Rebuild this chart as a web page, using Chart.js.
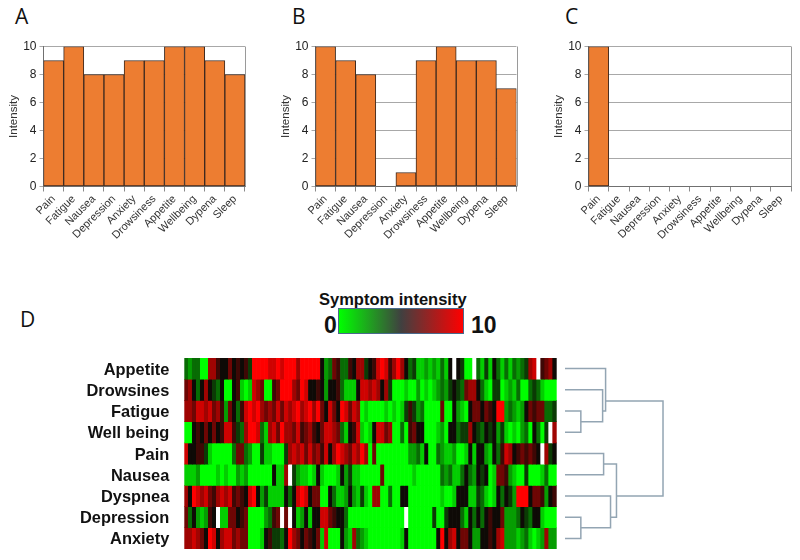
<!DOCTYPE html>
<html><head><meta charset="utf-8">
<style>
html,body{margin:0;padding:0;background:#fff;width:800px;height:560px;overflow:hidden}
canvas{position:absolute;display:block}
.t{position:absolute;white-space:nowrap;font-family:"Liberation Sans",Arial,sans-serif;color:#111}
.p{font-family:"Open Sans",sans-serif;font-size:21px;line-height:24px;color:#111}
.b{font-weight:bold}
#bar{position:absolute;left:338px;top:308px;width:124px;height:24px;border:1px solid #4a6a8c;background:linear-gradient(90deg,#00ff00 0%,#404040 50%,#ff0000 100%)}
</style>
<script src="https://cdn.jsdelivr.net/npm/chart.js@4"></script>
</head><body>
<div class="t p" style="left:15px;top:4px">A</div>
<div class="t p" style="left:292px;top:4px">B</div>
<div class="t p" style="left:565px;top:4px">C</div>
<div class="t p" style="left:20px;top:307px">D</div>
<div class="t b" style="left:319px;top:290px;font-size:16.5px;line-height:19px">Symptom intensity</div>
<div class="t b" style="left:324px;top:312px;font-size:23px;line-height:26px">0</div>
<div class="t b" style="left:471px;top:312px;font-size:23px;line-height:26px">10</div>
<div id="bar"></div>
<canvas id="cA" width="246" height="240" style="left:7px;top:0"></canvas>
<canvas id="cB" width="246" height="240" style="left:279px;top:0"></canvas>
<canvas id="cC" width="246" height="240" style="left:552px;top:0"></canvas>
<canvas id="cH" width="560" height="206" style="left:0;top:350px"></canvas>
<canvas id="cD" width="120" height="206" style="left:555px;top:350px"></canvas>
<script>
const symptoms = ['Pain','Fatigue','Nausea','Depression','Anxiety','Drowsiness','Appetite','Wellbeing','Dypena','Sleep'];
const valuesA = [9,10,8,8,9,9,10,10,9,8];
const valuesB = [10,9,8,0,1,9,10,9,9,7];
const valuesC = [10,0,0,0,0,0,0,0,0,0];
const yTicks = [0,2,4,6,8,10];

const heatRows = ['Appetite','Drowsines','Fatigue','Well being','Pain','Nausea','Dyspnea','Depression','Anxiety'];
const appetite = [3,2,3,3,0,0,8,8,6,5, 5,7,5,6,5,6,4,10,10,10, 10,9,9,10,9,10,10,10,8,10, 10,10,10,10,5,2,3,7,6,3, 3,6,5,8,8,4,5,6,9,10, 9,6,8,10,8,5,3,4,1,1, 2,1,2,1,3,1,5,null,5,4, 0,0,null,3,1,4,1,5,3,1, 3,1,3,2,3,4,8,9,null,6,7,8,5];
const drowsiness = [7,8,5,3,5,8,5,4,3,5, 0,0,5,6,1,0,1,9,8,7, 0,0,6,7,10,10,10,8,7,10, 9,5,5,6,5,2,5,5,6,3, 1,1,1,5,9,9,8,9,8,5, 8,4,0,0,0,1,0,0,2,0, 1,0,1,2,3,2,4,5,4,3, 7,8,8,5,3,1,0,4,4,0, 1,2,1,3,0,0,3,4,3,1,0,0,0];
const fatigue = [8,8,7,9,9,8,9,7,8,6, 2,7,5,3,6,9,10,9,10,8, 7,8,7,9,7,9,8,9,10,8, 9,10,8,10,7,5,9,7,5,10, 9,7,9,8,0,1,0,0,0,0, 1,0,1,0,1,4,6,4,2,3, 0,0,0,0,7,0,0,5,2,1, 0,5,7,7,5,7,6,5,10,10, 2,3,2,1,2,5,7,6,7,7,3,3,4];
const wellBeing = [0,0,5,6,5,7,5,7,5,6, 9,9,6,4,3,8,10,10,9,3, 1,8,9,7,10,8,8,7,9,6, 7,8,6,5,7,9,9,8,7,3, 1,5,6,9,1,0,1,5,9,9, 7,8,0,0,3,0,6,7,5,5, 0,0,0,1,2,0,5,5,3,4, 4,8,5,4,3,5,4,5,2,4, 1,0,1,0,2,3,0,5,3,0,4,null,8];
const pain = [9,5,5,6,6,4,1,0,0,0, 0,0,3,7,7,3,2,0,0,4, 1,1,0,0,0,4,8,9,8,9, 7,9,7,8,6,9,5,8,10,9, 8,7,9,8,10,8,0,7,0,0, 0,0,0,0,0,0,2,2,3,1, 5,0,0,3,2,1,1,2,0,0, 1,5,1,5,5,2,1,5,3,6, 9,8,5,6,7,6,7,6,5,null,8,4,5];
const nausea = [1,1,1,2,0,0,0,0,1,0, 1,0,0,2,1,2,0,0,0,0, 0,0,5,1,1,8,null,4,2,1, 1,0,1,5,1,0,0,0,1,5, 2,4,1,1,0,0,0,0,0,7, 0,0,0,0,0,0,0,1,0,0, 0,0,0,0,3,2,3,1,1,3, 5,3,2,5,4,5,0,1,7,7, 6,2,1,0,0,4,0,0,0,1,3,0,0];
const dyspnea = [8,5,10,9,8,9,7,6,8,9, 8,9,6,7,6,5,9,10,5,2, 4,1,1,1,1,5,3,5,9,10, 9,5,7,7,0,0,5,3,1,1, 2,5,2,1,4,1,0,8,8,0, 0,3,0,0,5,5,0,0,0,0, 0,0,0,0,1,0,0,1,5,5, 5,1,1,4,3,1,0,1,5,3, 5,4,2,10,10,10,5,7,7,6,2,5,6];
const depression = [7,3,5,2,1,2,6,5,null,1, 1,7,7,5,6,7,0,0,0,0, 2,3,6,7,null,7,null,5,1,2, 5,1,5,5,9,9,7,6,5,5, 3,0,0,0,0,0,0,0,0,0, 0,0,0,0,0,null,0,0,0,0, 0,0,4,0,0,4,5,5,5,3, 1,5,3,5,3,5,6,5,5,7, 2,2,2,3,5,4,3,5,5,1,0,0,0];
const anxiety = [8,8,9,8,7,5,10,9,5,8, 9,9,7,8,7,7,0,0,0,1, 5,6,4,4,3,5,10,8,7,5, 7,6,5,7,1,9,0,0,0,5, 2,1,8,3,2,1,0,0,0,0, 0,0,0,0,1,5,0,0,0,0, 0,0,0,5,10,5,8,9,5,7, 7,5,2,2,5,5,6,5,8,9, 2,2,2,1,2,3,1,0,1,2,8,2,2];
const heatValues = [appetite,drowsiness,fatigue,wellBeing,pain,nausea,dyspnea,depression,anxiety];

// dendrogram merges: [rowA, distA, rowB, distB, mergeDist]
const merge1 = [2.5,0,3.5,0,16];
const merge2 = [1.5,0,3,16,38];
const merge3 = [0.5,0,2.5,38,41];
const merge4 = [4.5,0,5.5,0,39];
const merge5 = [7.5,0,8.5,0,16];
const merge6 = [6.5,0,8,16,46];
const merge7 = [5,39,7.5,46,52];
const merge8 = [2.03,41,6.5,52,99];
const merges = [merge1,merge2,merge3,merge4,merge5,merge6,merge7,merge8];

function heatColor(v){
  if(v===null) return '#ffffff';
  const mid=[14,10,6],lo=[0,255,0],hi=[255,0,0];
  const a=v<=5?lo:mid,b=v<=5?mid:hi,t=v<=5?v/5:(v-5)/5;
  return 'rgb('+a.map((c,i)=>Math.round(c+(b[i]-c)*t)).join(',')+')';
}
const rightEdge={id:'rightEdge',afterDatasetsDraw(c){
  const a=c.chartArea,x=c.ctx;x.save();x.strokeStyle='#9a9a9a';x.lineWidth=1;
  x.beginPath();x.moveTo(Math.round(a.right)+.5,a.top);x.lineTo(Math.round(a.right)+.5,a.bottom);x.stroke();x.restore();
}};
const font='"Liberation Sans",Arial,sans-serif';
function barChart(id,values,rightPad){
  new Chart(document.getElementById(id),{
    type:'bar',
    data:{labels:symptoms,datasets:[{data:values,backgroundColor:'#ed7d31',borderColor:'#3d2a20',borderWidth:1,barPercentage:1,categoryPercentage:1,borderSkipped:false}]},
    plugins:[rightEdge],
    options:{responsive:false,animation:false,
      layout:{padding:{top:46.5,right:rightPad,left:0,bottom:0}},
      plugins:{legend:{display:false},tooltip:{enabled:false}},
      scales:{
        x:{grid:{drawOnChartArea:false,color:'#8a8a8a',tickLength:5},border:{color:'#707070'},
           ticks:{minRotation:45,maxRotation:45,autoSkip:false,color:'#333',padding:1,font:{family:font,size:11}},
           afterFit(s){s.height=53.5;}},
        y:{min:0,max:10,afterBuildTicks(s){s.ticks=yTicks.map(v=>({value:v}));},
           grid:{color:'#a8a8a8',tickLength:4},border:{color:'#707070'},
           ticks:{color:'#222',padding:3,font:{family:font,size:12}},
           title:{display:true,text:'Intensity',color:'#333',padding:0,font:{family:font,size:11.5}},
           afterFit(s){s.width=36.5;}}
      }}
  });
}
barChart('cA',valuesA,8);
barChart('cB',valuesB,8.5);
barChart('cC',valuesC,7);

new Chart(document.getElementById('cH'),{
  type:'bar',
  data:{labels:appetite.map((_,i)=>i+1),
    datasets:heatValues.map(row=>({data:row.map(()=>1),backgroundColor:row.map(heatColor),borderWidth:0,barPercentage:1,categoryPercentage:1,yAxisID:'v'}))},
  options:{responsive:false,animation:false,
    layout:{padding:{top:8,right:3.3,bottom:7,left:0}},
    plugins:{legend:{display:false},tooltip:{enabled:false}},
    scales:{
      x:{stacked:true,display:false},
      v:{type:'linear',stacked:true,min:0,max:9,reverse:true,display:false},
      rows:{type:'category',labels:heatRows,position:'left',offset:true,
        grid:{display:false},border:{display:false},
        ticks:{color:'#111',padding:7,labelOffset:1.5,autoSkip:false,font:{family:font,size:16.4,weight:'bold'}},
        afterFit(s){s.width=184.3;s.paddingTop=0;s.paddingBottom=0;}}
    }}
});

new Chart(document.getElementById('cD'),{
  type:'scatter',
  data:{datasets:merges.map(m=>({
    data:[{x:m[1],y:m[0]},{x:m[4],y:m[0]},{x:m[4],y:m[2]},{x:m[3],y:m[2]}],
    showLine:true,borderColor:'#93a5b3',borderWidth:1.5,pointRadius:0,tension:0
  }))},
  options:{responsive:false,animation:false,
    layout:{padding:{top:8,bottom:7,left:10,right:11}},
    plugins:{legend:{display:false},tooltip:{enabled:false}},
    scales:{x:{min:0,max:100,display:false},y:{min:0,max:9,reverse:true,display:false}}}
});
</script>
</body></html>
